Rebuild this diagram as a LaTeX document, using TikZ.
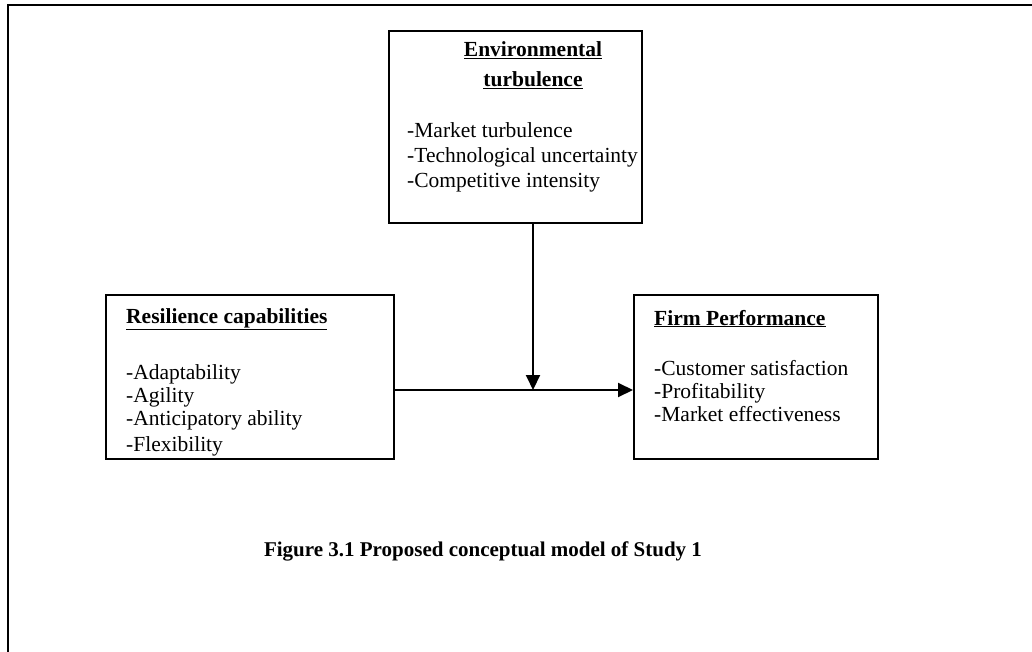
\documentclass[tikz,border=0pt]{standalone}
\usepackage{fontspec}
\setmainfont{Liberation Serif}
\usetikzlibrary{arrows.meta}
\begin{document}
\begin{tikzpicture}[x=1pt,y=1pt,
  box/.style={draw=black,line width=1.6pt,anchor=north west,inner sep=0pt},
  head/.style={anchor=base west,inner sep=0pt,font=\fontsize{21.5}{25}\selectfont\bfseries},
  item/.style={anchor=base west,inner sep=0pt,font=\fontsize{21.5}{25}\selectfont},
  arr/.style={line width=2pt,-{Triangle[length=15pt,width=14pt]}}]
\useasboundingbox (0,0) rectangle (1032,-652);
% page frame (top and left edges)
\draw[line width=2.2pt] (8,-652) -- (8,-5) -- (1032,-5);
% boxes
\node[box,minimum width=253pt,minimum height=192pt] (env) at (388,-30) {};
\node[box,minimum width=288pt,minimum height=164pt] (res) at (105,-294) {};
\node[box,minimum width=244pt,minimum height=164pt] (firm) at (633,-294) {};
% environmental turbulence
\node[head,anchor=base] (envh1) at (533,-57) {\underline{Environmental}};
\node[head,anchor=base] (envh2) at (533,-87) {\underline{turbulence}};
\node[item] (env1) at (407,-138) {-Market turbulence};
\node[item] (env2) at (407,-163) {-Technological uncertainty};
\node[item] (env3) at (407,-188) {-Competitive intensity};
% resilience capabilities
\node[head] (resh) at (126,-323) {\underline{Resilience capabilities}};
\node[item] (res1) at (126,-379) {-Adaptability};
\node[item] (res2) at (126,-402) {-Agility};
\node[item] (res3) at (126,-425) {-Anticipatory ability};
\node[item] (res4) at (126,-451) {-Flexibility};
% firm performance
\node[head] (firmh) at (654,-325) {\underline{Firm Performance}};
\node[item] (firm1) at (654,-375) {-Customer satisfaction};
\node[item] (firm2) at (654,-398) {-Profitability};
\node[item] (firm3) at (654,-421) {-Market effectiveness};
% caption
\node[head,anchor=base,font=\fontsize{21}{25}\selectfont\bfseries] (cap) at (483,-556) {Figure 3.1 Proposed conceptual model of Study 1};
% connectors
\coordinate (j) at (533,-390);
\draw[arr] (env.south -| j) -- (j);
\draw[arr] (res.east |- j) -- (firm.west |- j);
\end{tikzpicture}
\end{document}
